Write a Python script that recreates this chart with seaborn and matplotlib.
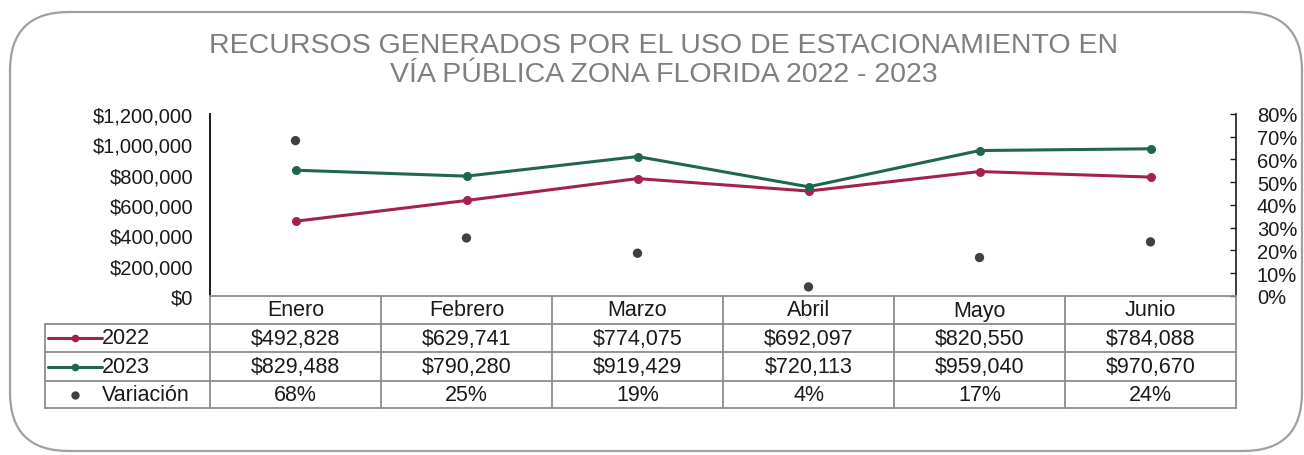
import numpy as np
import pandas as pd
import matplotlib
matplotlib.use("Agg")
import matplotlib.pyplot as plt
import seaborn as sns
from matplotlib.patches import FancyBboxPatch
from matplotlib.lines import Line2D
from matplotlib.ticker import FuncFormatter, MultipleLocator

# Datos
meses = ["Enero", "Febrero", "Marzo", "Abril", "Mayo", "Junio"]
v2022 = [492828, 629741, 774075, 692097, 820550, 784088]
v2023 = [829488, 790280, 919429, 720113, 959040, 970670]
variacion = [0.683, 0.255, 0.188, 0.040, 0.169, 0.238]
variacion_txt = ["68%", "25%", "19%", "4%", "17%", "24%"]

c2022 = "#A3214B"
c2023 = "#1F6651"
cvar = "#404040"
cgris = "#8C8C8C"

sns.set_theme(style="white")
plt.rcParams["font.family"] = ["Liberation Sans", "DejaVu Sans"]

W, H = 1304, 456
fig = plt.figure(figsize=(W / 100, H / 100), dpi=100)


def px_rect(x0, y0, x1, y1):
    return [x0 / W, 1 - y1 / H, (x1 - x0) / W, (y1 - y0) / H]


# marco redondeado
fig.patches.append(FancyBboxPatch((10 / W, 1 - 452 / H), 1292 / W, 439 / H,
                                  boxstyle="round,pad=0,rounding_size=0.045",
                                  transform=fig.transFigure, fill=False,
                                  edgecolor="#A0A0A0", linewidth=1.6,
                                  mutation_aspect=W / H))

fig.text(664 / W, 1 - 46 / H, "RECURSOS GENERADOS POR EL USO DE ESTACIONAMIENTO EN",
         ha="center", va="center", fontsize=20.5, color="#7F7F7F")
fig.text(664 / W, 1 - 75 / H, "VÍA PÚBLICA ZONA FLORIDA 2022 - 2023",
         ha="center", va="center", fontsize=20.5, color="#7F7F7F")

df = pd.DataFrame({"mes": np.arange(len(meses)), "2022": v2022, "2023": v2023,
                   "var": variacion})

ax = fig.add_axes(px_rect(210, 115, 1236, 297))
sns.lineplot(data=df, x="mes", y="2022", ax=ax, color=c2022, linewidth=2.2,
             marker="o", markersize=6.5, markeredgewidth=0)
sns.lineplot(data=df, x="mes", y="2023", ax=ax, color=c2023, linewidth=2.2,
             marker="o", markersize=6.5, markeredgewidth=0)
ax.set_xlim(-0.5, 5.5)
ax.set_ylim(0, 1200000)
ax.yaxis.set_major_locator(MultipleLocator(200000))
ax.yaxis.set_major_formatter(FuncFormatter(lambda v, p: f"${v:,.0f}"))
ax.set_xticks([])
ax.set_xlabel("")
ax.set_ylabel("")
ax.tick_params(axis="y", length=0, pad=12, labelsize=14.5, labelcolor="#1A1A1A")
for s in ["top", "right", "bottom"]:
    ax.spines[s].set_visible(False)
ax.spines["left"].set_color("#1A1A1A")
ax.spines["left"].set_linewidth(1.4)
ax.patch.set_alpha(0)

ax2 = ax.twinx()
sns.scatterplot(data=df, x="mes", y="var", ax=ax2, color=cvar, s=45,
                edgecolor="none", zorder=5)
ax2.set_ylim(0, 0.8)
ax2.yaxis.set_major_locator(MultipleLocator(0.1))
ax2.yaxis.set_major_formatter(FuncFormatter(lambda v, p: f"{v * 100:.0f}%"))
ax2.set_ylabel("")
ax2.tick_params(axis="y", direction="in", length=4, width=1, color="#1A1A1A",
                pad=15, labelsize=14.5, labelcolor="#1A1A1A")
for s in ["top", "left", "bottom"]:
    ax2.spines[s].set_visible(False)
ax2.spines["right"].set_color("#1A1A1A")
ax2.spines["right"].set_linewidth(1.2)

# tabla de datos
x_left = -0.5 - 165 / 171
tab = fig.add_axes(px_rect(45, 297, 1236, 409))
tab.set_xlim(x_left, 5.5)
tab.set_ylim(409, 297)
tab.axis("off")
rows = [297, 325, 353, 382, 409]
lw = 1.3
# horizontales
tab.plot([-0.5, 5.5], [rows[0]] * 2, color=cgris, lw=lw, clip_on=False)
for r in rows[1:]:
    tab.plot([x_left, 5.5], [r, r], color=cgris, lw=lw, clip_on=False)
# verticales
tab.plot([x_left, x_left], [rows[1], rows[-1]], color=cgris, lw=lw, clip_on=False)
for i in range(7):
    tab.plot([i - 0.5, i - 0.5], [rows[0], rows[-1]], color=cgris, lw=lw, clip_on=False)

fs = 15.5
for i, m in enumerate(meses):
    tab.text(i, (rows[0] + rows[1]) / 2, m, ha="center", va="center", fontsize=fs, color="#1A1A1A")
    tab.text(i, (rows[1] + rows[2]) / 2, f"${v2022[i]:,}", ha="center", va="center", fontsize=fs, color="#1A1A1A")
    tab.text(i, (rows[2] + rows[3]) / 2, f"${v2023[i]:,}", ha="center", va="center", fontsize=fs, color="#1A1A1A")
    tab.text(i, (rows[3] + rows[4]) / 2, variacion_txt[i], ha="center", va="center", fontsize=fs, color="#1A1A1A")

# claves de leyenda
lx0 = x_left + 3 / 171
lx1 = x_left + 57 / 171
tx = x_left + 57 / 171
for k, (lab, col) in enumerate([("2022", c2022), ("2023", c2023)]):
    yc = (rows[k + 1] + rows[k + 2]) / 2
    tab.add_line(Line2D([lx0, lx1], [yc, yc], color=col, lw=2.2))
    tab.plot([(lx0 + lx1) / 2], [yc], marker="o", ms=5.5, color=col, mew=0)
    tab.text(tx, yc, lab, ha="left", va="center", fontsize=fs, color="#1A1A1A")
yc = (rows[3] + rows[4]) / 2
tab.plot([(lx0 + lx1) / 2], [yc], marker="o", ms=6, color=cvar, mew=0)
tab.text(tx, yc, "Variación", ha="left", va="center", fontsize=fs, color="#1A1A1A")

fig.savefig("out.png", dpi=100)
